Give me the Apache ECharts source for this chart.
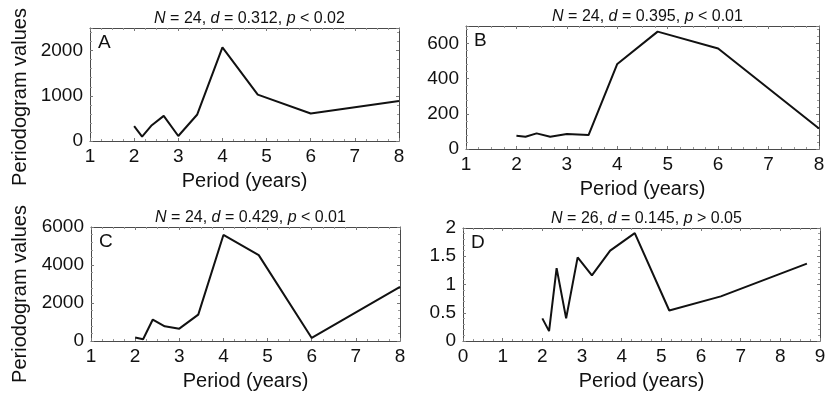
<!DOCTYPE html>
<html>
<head>
<meta charset="utf-8">
<script src="https://cdn.jsdelivr.net/npm/echarts@6/dist/echarts.min.js"></script>
<style>
  html, body { margin: 0; padding: 0; background: #fff; }
  #chart { width: 834px; height: 395px; }
</style>
</head>
<body>
<div id="chart"></div>
<script>
// periods (years) and periodogram values
var periodA = [2.0, 2.18, 2.4, 2.67, 3.0, 3.43, 4.0, 4.8, 6.0, 8.0];
var valuesA = [330, 95, 350, 556, 110, 587, 2073, 1026, 609, 886];

var periodB = [2.0, 2.18, 2.4, 2.67, 3.0, 3.43, 4.0, 4.8, 6.0, 8.0];
var valuesB = [75, 70, 89, 70, 85, 79, 484, 668, 572, 117];

var periodC = [2.0, 2.18, 2.4, 2.67, 3.0, 3.43, 4.0, 4.8, 6.0, 8.0];
var valuesC = [180, 90, 1130, 775, 650, 1390, 5580, 4520, 160, 2850];

var periodD = [2.0, 2.17, 2.36, 2.6, 2.89, 3.25, 3.71, 4.33, 5.2, 6.5, 8.67];
var valuesD = [0.40, 0.175, 1.29, 0.40, 1.48, 1.16, 1.60, 1.91, 0.54, 0.79, 1.37];

var panelLetters = ['A', 'B', 'C', 'D'];
var panelStats = [
    ['24', '0.312', '<', '0.02'],
    ['24', '0.395', '<', '0.01'],
    ['24', '0.429', '<', '0.01'],
    ['26', '0.145', '>', '0.05']
];
var xRanges = [[1, 8], [1, 8], [1, 8], [0, 9]];
var yRanges = [[0, 2500, 1000], [0, 700, 200], [0, 6000, 2000], [0, 2, 0.5]];
var xName = 'Period (years)';
var yName = 'Periodogram values';

var font = 'Liberation Sans, Arial, Helvetica, sans-serif';
var ink = '#111';
var frame = '#4a4a4a';

var grids = [
    { left: 90, top: 28, width: 309, height: 113 },
    { left: 466, top: 26, width: 353, height: 123 },
    { left: 91, top: 227, width: 309, height: 114 },
    { left: 463, top: 228, width: 357, height: 113 }
];
var titleTops = [6, 4, 205, 206];

var allPeriods = [periodA, periodB, periodC, periodD];
var allValues = [valuesA, valuesB, valuesC, valuesD];

var xAxes = [], yAxes = [], series = [], titles = [], graphics = [];

function plain(v) { return String(v); }

grids.forEach(function (g, i) {
    var yr = yRanges[i];
    // bottom + top x axes
    xAxes.push({
        type: 'value', gridIndex: i, min: xRanges[i][0], max: xRanges[i][1], interval: 1,
        name: xName, nameLocation: 'middle', nameGap: 30,
        nameTextStyle: { fontFamily: font, fontSize: 20, color: ink },
        axisLine: { show: true, onZero: false, lineStyle: { color: frame, width: 1 } },
        axisTick: { show: true, inside: true, length: 3, lineStyle: { color: '#777' } },
        minorTick: { show: true, splitNumber: 4, length: 2, lineStyle: { color: '#999' } },
        axisLabel: { fontFamily: font, fontSize: 19, color: ink, margin: 6, formatter: plain },
        splitLine: { show: false }
    });
    xAxes.push({
        type: 'value', gridIndex: i, position: 'top', min: xRanges[i][0], max: xRanges[i][1], interval: 1,
        axisLine: { show: true, onZero: false, lineStyle: { color: frame, width: 1 } },
        axisTick: { show: true, inside: true, length: 3, lineStyle: { color: '#777' } },
        minorTick: { show: true, splitNumber: 4, length: 2, lineStyle: { color: '#999' } },
        axisLabel: { show: false },
        splitLine: { show: false }
    });
    // left + right y axes
    yAxes.push({
        type: 'value', gridIndex: i, min: yr[0], max: yr[1], interval: yr[2],
        axisLine: { show: true, onZero: false, lineStyle: { color: frame, width: 1 } },
        axisTick: { show: true, inside: true, length: 3, lineStyle: { color: '#777' } },
        minorTick: { show: true, splitNumber: 5, length: 2, lineStyle: { color: '#999' } },
        axisLabel: {
            fontFamily: font, fontSize: 19, color: ink, margin: 7, formatter: plain,
            showMaxLabel: (yr[1] % yr[2] === 0)
        },
        splitLine: { show: false }
    });
    yAxes.push({
        type: 'value', gridIndex: i, position: 'right', min: yr[0], max: yr[1], interval: yr[2],
        axisLine: { show: true, onZero: false, lineStyle: { color: frame, width: 1 } },
        axisTick: { show: true, inside: true, length: 3, lineStyle: { color: '#777' } },
        minorTick: { show: true, splitNumber: 5, length: 2, lineStyle: { color: '#999' } },
        axisLabel: { show: false },
        splitLine: { show: false }
    });

    var pts = allPeriods[i].map(function (p, k) { return [p, allValues[i][k]]; });
    series.push({
        type: 'line', xAxisIndex: i * 2, yAxisIndex: i * 2, data: pts,
        symbol: 'none', animation: false,
        lineStyle: { color: ink, width: 2 }
    });

    var s = panelStats[i];
    titles.push({
        left: g.left + g.width / 2, top: titleTops[i], textAlign: 'center',
        text: '{i|N} = ' + s[0] + ', {i|d} = ' + s[1] + ', {i|p} ' + s[2] + ' ' + s[3],
        textStyle: {
            fontFamily: font, fontSize: 16, fontWeight: 'normal', color: ink,
            rich: { i: { fontFamily: font, fontSize: 16, fontStyle: 'italic', color: ink } }
        }
    });

    graphics.push({
        type: 'text', left: g.left + 8, top: g.top + 5,
        style: { text: panelLetters[i], fontFamily: font, fontSize: 19, fill: ink }
    });
});

// shared y-axis titles on the left column
[97, 294].forEach(function (cy) {
    graphics.push({
        type: 'text', x: 20, y: cy, rotation: Math.PI / 2,
        style: {
            text: yName, fontFamily: font, fontSize: 20, fill: ink,
            textAlign: 'center', textVerticalAlign: 'middle'
        }
    });
});

var chart = echarts.init(document.getElementById('chart'));
chart.setOption({
    backgroundColor: '#fff',
    animation: false,
    title: titles,
    grid: grids,
    xAxis: xAxes,
    yAxis: yAxes,
    series: series,
    graphic: graphics
});
</script>
</body>
</html>
